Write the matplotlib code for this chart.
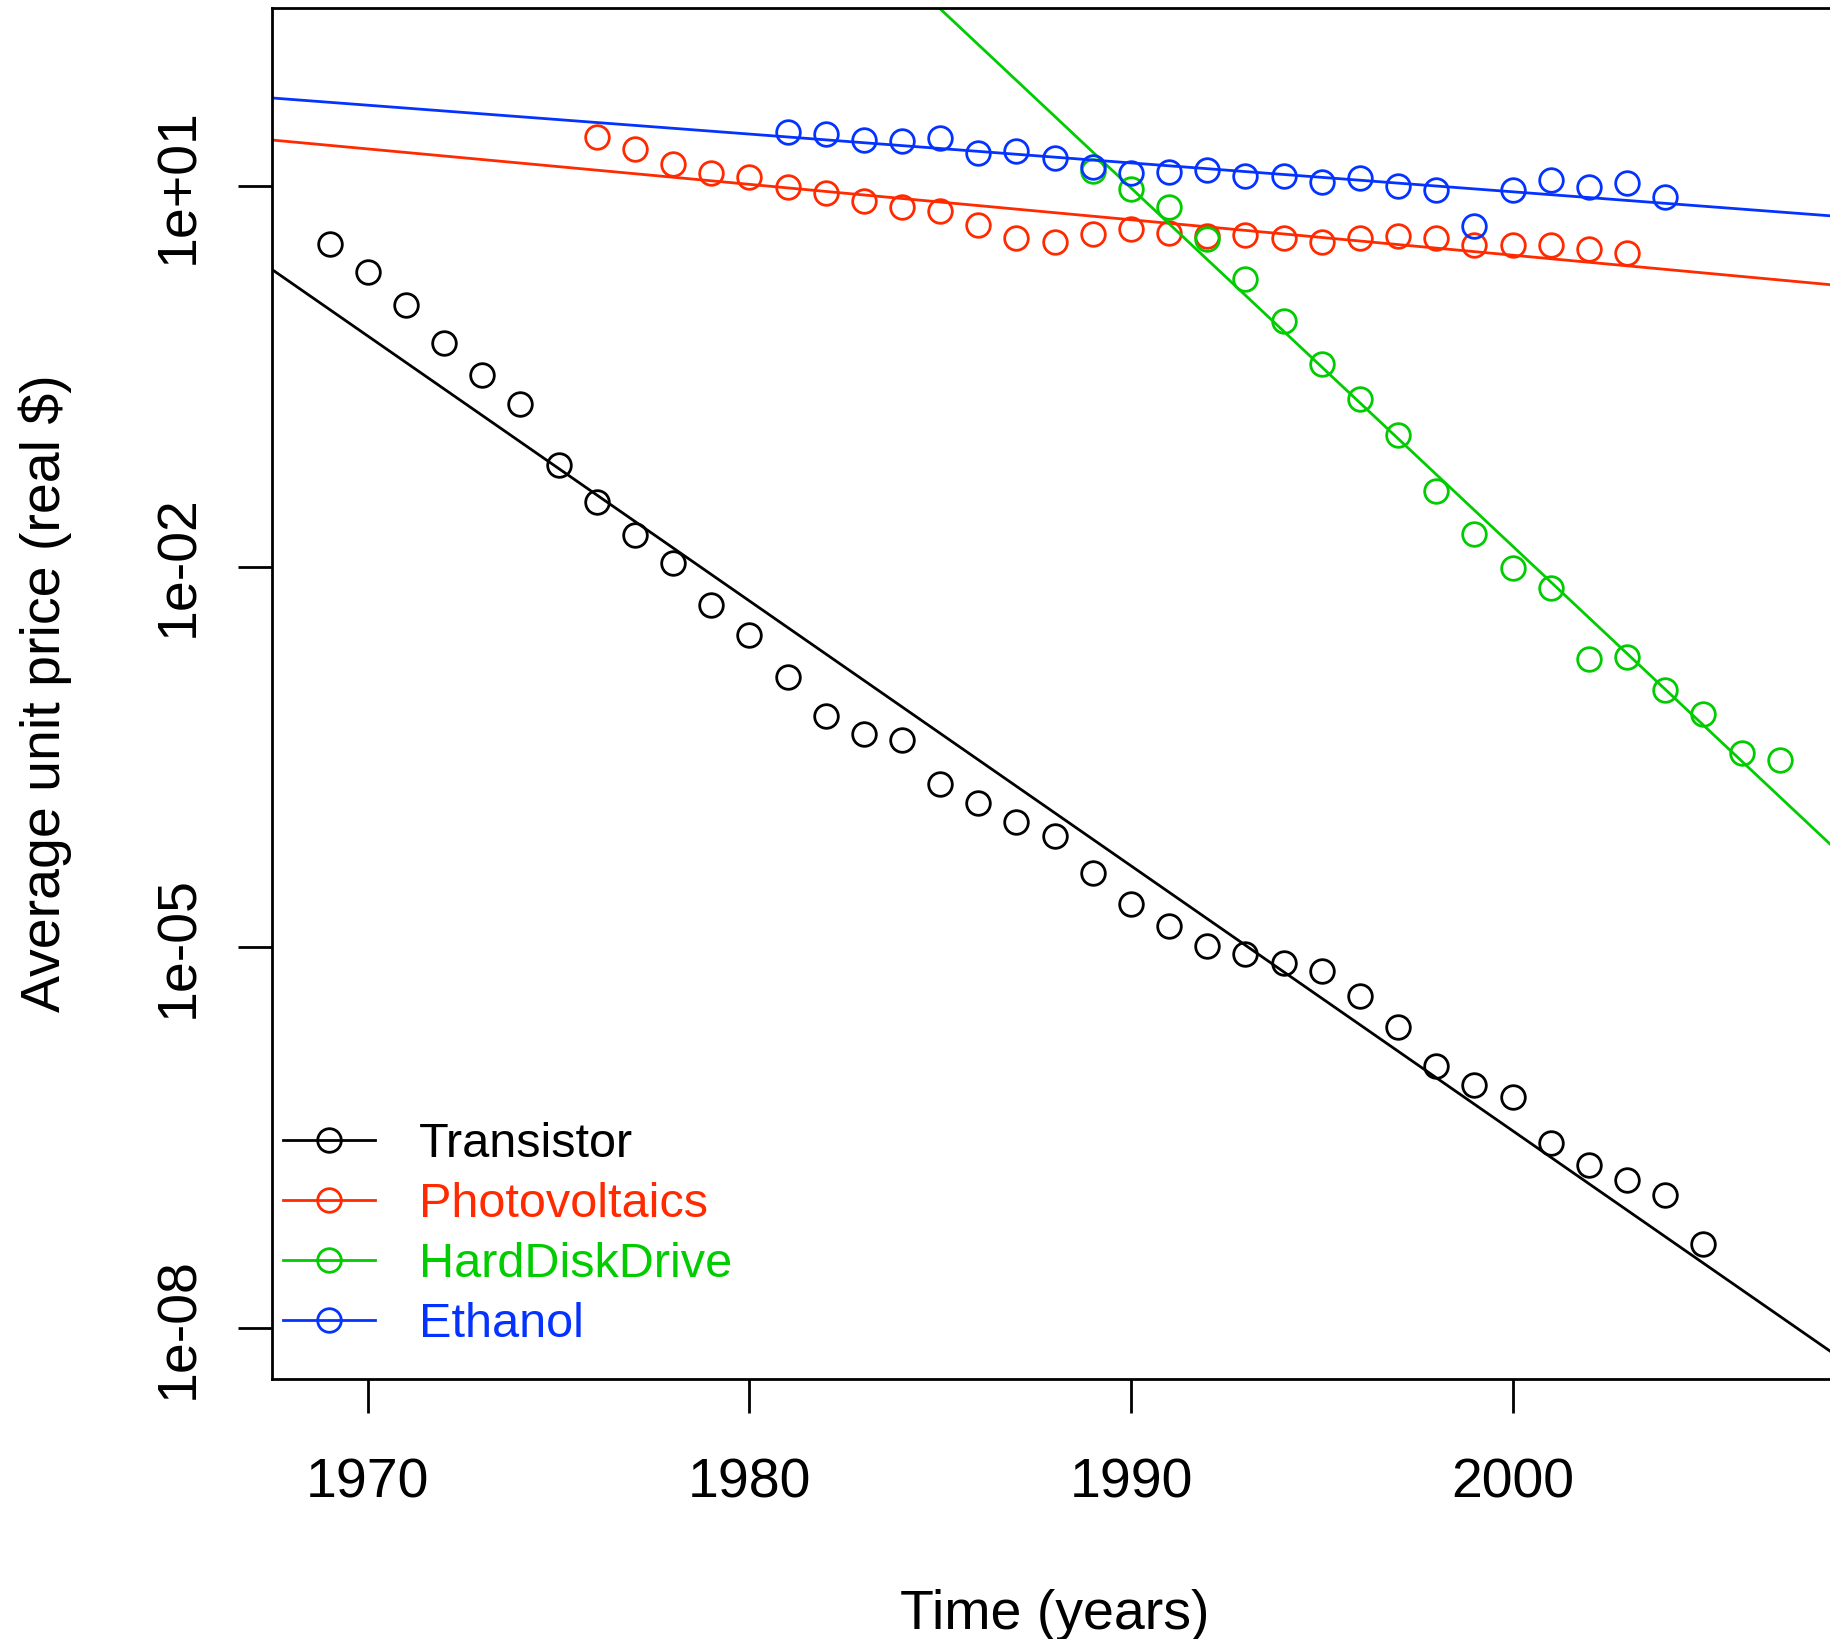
import numpy as np
import matplotlib
matplotlib.use('Agg')
import matplotlib.pyplot as plt

plt.rcParams['font.family'] = ['Liberation Sans', 'DejaVu Sans']

# price (real $) by year
transistor_years = list(range(1969, 2006))
transistor_price = [3.49, 2.10, 1.16, 0.575, 0.322, 0.191, 0.0635, 0.0322, 0.0178,
                    0.0107, 4.97e-3, 2.90e-3, 1.35e-3, 6.61e-4, 4.76e-4, 4.33e-4,
                    1.95e-4, 1.37e-4, 9.64e-5, 7.46e-5, 3.85e-5, 2.20e-5, 1.48e-5,
                    1.03e-5, 8.87e-6, 7.48e-6, 6.55e-6, 4.14e-6, 2.34e-6, 1.16e-6,
                    8.22e-7, 6.58e-7, 2.85e-7, 1.92e-7, 1.46e-7, 1.12e-7, 4.55e-8]

pv_years = list(range(1976, 2004))
pv_price = [24.2, 19.5, 14.9, 12.6, 11.7, 9.73, 8.77, 7.55, 6.84, 6.37, 4.91, 3.87,
            3.65, 4.17, 4.62, 4.25, 4.00, 4.11, 3.87, 3.65, 3.87, 4.04, 3.87, 3.41,
            3.41, 3.41, 3.17, 2.95]

hdd_years = list(range(1989, 2008))
hdd_price = [13.2, 9.44, 6.89, 3.85, 1.84, 0.863, 0.398, 0.211, 0.108, 0.0391,
             0.0182, 9.80e-3, 6.81e-3, 1.87e-3, 1.95e-3, 1.07e-3, 6.90e-4, 3.40e-4,
             3.01e-4]

ethanol_years = list(range(1981, 2005))
ethanol_price = [26.7, 25.6, 23.0, 22.7, 23.7, 18.2, 18.9, 16.5, 14.0, 12.6, 12.8,
                 13.4, 12.0, 11.9, 10.7, 11.5, 10.0, 9.27, 4.84, 9.31, 11.1, 9.73,
                 10.5, 8.20]

series_names = ['Transistor', 'Photovoltaics', 'HardDiskDrive', 'Ethanol']
series_colors = ['black', '#FF2A00', '#00CC00', '#0433FF']

x_ticks = [1970, 1980, 1990, 2000]
y_ticks = [1e1, 1e-2, 1e-5, 1e-8]
y_tick_labels = ['1e+01', '1e-02', '1e-05', '1e-08']

fig = plt.figure(figsize=(18.31, 16.39), dpi=100)
ax = fig.add_axes([0.1483, 0.1589, 0.8554, 0.8360])
ax.set_yscale('log')

series = [(transistor_years, transistor_price),
          (pv_years, pv_price),
          (hdd_years, hdd_price),
          (ethanol_years, ethanol_price)]

line_x = np.array([1960.0, 2015.0])
for (yrs, price), name, col in zip(series, series_names, series_colors):
    yrs = np.asarray(yrs, dtype=float)
    logp = np.log10(price)
    ax.plot(yrs, price, linewidth=0, marker='o', markersize=17,
            markerfacecolor='none', markeredgecolor=col, markeredgewidth=2.0,
            label=name)
    # least-squares trend in log space, drawn across the whole panel
    slope, icpt = np.polyfit(yrs, logp, 1)
    ax.plot(line_x, 10 ** (icpt + slope * line_x), color=col, linewidth=2.0)

ax.set_xlim(1967.48, 2008.52)
ax.set_ylim(10 ** -8.4, 10 ** 2.4)

ax.set_xticks(x_ticks)
ax.set_xticklabels([str(t) for t in x_ticks])
ax.set_yticks(y_ticks)
ax.set_yticklabels(y_tick_labels)
ax.yaxis.set_minor_locator(matplotlib.ticker.NullLocator())

ax.tick_params(axis='both', length=24.5, width=2.0, labelsize=40, pad=32,
               direction='out')
for lab in ax.get_yticklabels():
    lab.set_rotation(90)
    lab.set_rotation_mode('anchor')
    lab.set_ha('center')
    lab.set_va('baseline')

for sp in ax.spines.values():
    sp.set_linewidth(2.0)

ax.set_xlabel('Time (years)', fontsize=40)
ax.set_ylabel('Average unit price (real $)', fontsize=40)
ax.xaxis.set_label_coords(0.5, -0.1536)
ax.yaxis.set_label_coords(-0.1274, 0.5)

# legend: line + open circle, text in series colour, no box
handles = []
for name, col in zip(series_names, series_colors):
    h, = ax.plot([], [], color=col, linewidth=2.0, marker='o', markersize=17,
                 markerfacecolor='none', markeredgecolor=col, markeredgewidth=2.0)
    handles.append(h)
leg = ax.legend(handles, series_names, loc='lower left',
                bbox_to_anchor=(0.00715, 0.023), borderaxespad=0, borderpad=0,
                frameon=False, fontsize=35, handlelength=1.9,
                handletextpad=0.9, labelspacing=0.31)
for txt, col in zip(leg.get_texts(), series_colors):
    txt.set_color(col)

fig.savefig('out.png', dpi=100)
